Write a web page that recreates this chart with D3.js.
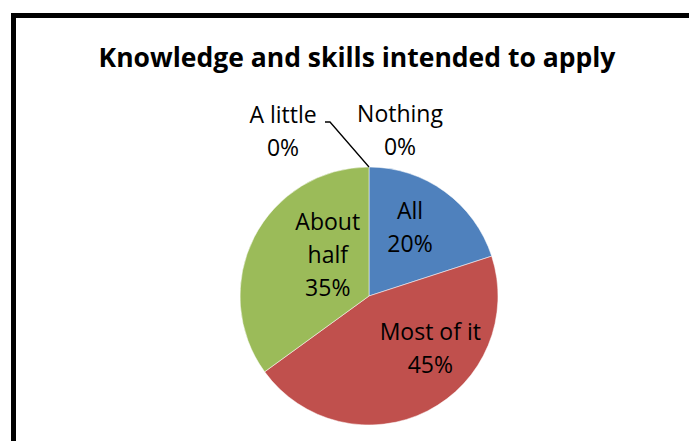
<!DOCTYPE html>
<html>
<head>
<meta charset="utf-8">
<script src="https://cdn.jsdelivr.net/npm/d3@7"></script>
<style>
  body { margin: 0; background: #fff; }
  text { font-family: "Open Sans", "Liberation Sans", sans-serif; fill: #000; }
</style>
</head>
<body>
<svg id="chart"></svg>
<script>
const width = 689;
const height = 441;

const categories = ["All", "Most of it", "About half", "A little", "Nothing"];
const values = [20, 45, 35, 0, 0];
const percentLabels = ["20%", "45%", "35%", "0%", "0%"];
const colors = ["#4F81BD", "#C0504D", "#9BBB59", "#8064A2", "#4BACC6"];

const data = categories.map((c, i) => ({ name: c, value: values[i], label: percentLabels[i], color: colors[i] }));

const cx = 369;
const cy = 296;
const radius = 129;
const lineH = 33;

const svg = d3.select("#chart").attr("width", width).attr("height", height);

// chart frame (runs off the right and bottom edges)
svg.append("rect")
  .attr("x", 13.5)
  .attr("y", 15.5)
  .attr("width", width + 20)
  .attr("height", height + 20)
  .attr("fill", "none")
  .attr("stroke", "#000")
  .attr("stroke-width", 5);

svg.append("text")
  .attr("x", 357)
  .attr("y", 57)
  .attr("text-anchor", "middle")
  .attr("dominant-baseline", "central")
  .style("font-weight", "bold")
  .style("font-size", "26.5px")
  .text("Knowledge and skills intended to apply");

const pie = d3.pie().sort(null).value(d => d.value);
const arcs = pie(data);

const arc = d3.arc().innerRadius(0).outerRadius(radius);
const labelArc = d3.arc().innerRadius(radius * 0.62).outerRadius(radius * 0.62);
const edgeArc = d3.arc().innerRadius(radius).outerRadius(radius);

const g = svg.append("g").attr("transform", `translate(${cx},${cy})`);

g.selectAll("path")
  .data(arcs.filter(d => d.value > 0))
  .enter()
  .append("path")
  .attr("d", arc)
  .attr("fill", d => d.data.color)
  .attr("stroke", "#fff")
  .attr("stroke-width", 0.5);

// label lines and nudges, Excel "best fit" style
const labelLines = {
  "All": ["All"],
  "Most of it": ["Most of it"],
  "About half": ["About", "half"],
  "A little": ["A little"],
  "Nothing": ["Nothing"]
};
const nudges = {
  "All": [-6, -5],
  "Most of it": [25, -20],
  "About half": [30, -6],
  "A little": [-86, -37],
  "Nothing": [31, -38]
};

arcs.forEach(d => {
  const lines = labelLines[d.data.name].concat([d.data.label]);
  const base = d.value > 0 ? labelArc.centroid(d) : edgeArc.centroid(d);
  const [nx, ny] = nudges[d.data.name];
  const x = base[0] + nx;
  const yc = base[1] + ny;
  const t = g.append("text")
    .attr("text-anchor", "middle")
    .style("font-size", "23px");
  lines.forEach((l, i) => {
    t.append("tspan")
      .attr("x", x)
      .attr("y", yc + (i - (lines.length - 1) / 2) * lineH)
      .attr("dominant-baseline", "central")
      .text(l);
  });
});

// leader line for "A little"
const edgeTop = edgeArc.centroid(arcs[3]);
g.append("polyline")
  .attr("points", [[edgeTop[0] - 44, edgeTop[1] - 45], [edgeTop[0] - 39, edgeTop[1] - 45], [edgeTop[0], edgeTop[1]]].map(p => p.join(",")).join(" "))
  .attr("fill", "none")
  .attr("stroke", "#000")
  .attr("stroke-width", 1.3);
</script>
</body>
</html>
